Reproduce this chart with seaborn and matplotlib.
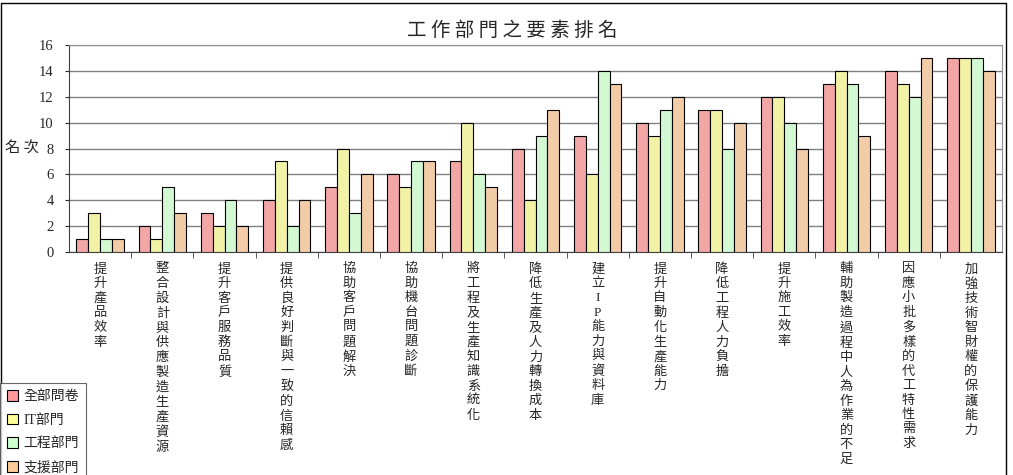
import matplotlib
matplotlib.use('Agg')
import matplotlib.pyplot as plt
import pandas as pd
import seaborn as sns
from matplotlib.patches import Rectangle, Patch

# datos
categorias = ['提升產品效率', '整合設計與供應製造生產資源', '提升客戶服務品質',
              '提供良好判斷與一致的信賴感', '協助客戶問題解決', '協助機台問題診斷',
              '將工程及生產知識系統化', '降低生產及人力轉換成本', '建立IP能力與資料庫',
              '提升自動化生產能力', '降低工程人力負擔', '提升施工效率',
              '輔助製造過程中人為作業的不足', '因應小批多樣的代工特性需求', '加強技術智財權的保護能力']
series = ['全部問卷', 'IT部門', '工程部門', '支援部門']
todos = [1, 2, 3, 4, 5, 6, 7, 8, 9, 10, 11, 12, 13, 14, 15]
it_dep = [3, 1, 2, 7, 8, 5, 10, 4, 6, 9, 11, 12, 14, 13, 15]
ing_dep = [1, 5, 4, 2, 3, 7, 6, 9, 14, 11, 8, 10, 13, 12, 15]
sop_dep = [1, 3, 2, 4, 6, 7, 5, 11, 13, 12, 10, 8, 9, 15, 14]
colores = ['#FF9999', '#FFFF99', '#CCFFCC', '#FFCC99']

df = pd.DataFrame({
    'cat': categorias * 4,
    'serie': [s for s in series for _ in categorias],
    'rank': todos + it_dep + ing_dep + sop_dep,
})

sns.set_style('white')
plt.rcParams['font.family'] = ['Liberation Serif', 'Noto Sans CJK TC']

fig = plt.figure(figsize=(10.13, 4.75), dpi=100)
ax = fig.add_axes([69 / 1013, 1 - 252 / 475, (1002 - 69) / 1013, (252 - 45) / 475])

sns.barplot(data=df, x='cat', y='rank', hue='serie', palette=colores,
            width=0.76, gap=0, edgecolor='black', linewidth=0.8, ax=ax,
            legend=False, zorder=3)

ax.set_ylim(0, 16)
ax.set_xlim(-0.5, 14.5)
ax.set_yticks(range(0, 17, 2))
ax.yaxis.grid(True, color='#808080', linewidth=1, zorder=0)
ax.set_axisbelow(True)
for s in ['top', 'right']:
    ax.spines[s].set_color('#909090')
for s in ['left', 'bottom']:
    ax.spines[s].set_color('#404040')
ax.tick_params(axis='y', length=3, direction='out', left=True, labelsize=10.5, pad=8)
ax.set_xticks(range(15))
ax.set_xticklabels(['\n'.join(list(c)) for c in categorias], fontsize=9.5,
                   linespacing=1.27, va='top')
ax.tick_params(axis='x', length=0, pad=8)
ax.set_xticks([i + 0.5 for i in range(14)], minor=True)
ax.tick_params(axis='x', which='minor', length=4, direction='out', bottom=True, color='#404040')
ax.set_xlabel('')
ax.set_ylabel('')

fig.text(512 / 1013, 1 - 30 / 475, '工 作 部 門 之 要 素 排 名', ha='center', va='center',
         fontsize=14, family=['Noto Sans CJK TC'])
fig.text(22 / 1013, 1 - 148 / 475, '名 次', ha='center', va='center', fontsize=11,
         family=['Noto Sans CJK TC'])

handles = [Patch(facecolor=c, edgecolor='black', linewidth=0.8) for c in colores]
leg = fig.legend(handles, series, loc='upper left', bbox_to_anchor=(0.0, 1 - 383 / 475),
                 frameon=True, fancybox=False, edgecolor='#404040', fontsize=10,
                 handlelength=0.8, handleheight=0.8, handletextpad=0.4,
                 labelspacing=0.75, borderpad=0.5, borderaxespad=0.0)
leg.get_frame().set_linewidth(0.8)

fig.patches.append(Rectangle((1 / 1013, -0.1), 1005 / 1013, 1.1 - 3 / 475, fill=False,
                             edgecolor='black', linewidth=1, transform=fig.transFigure,
                             figure=fig))

fig.savefig('out.png', dpi=100)
